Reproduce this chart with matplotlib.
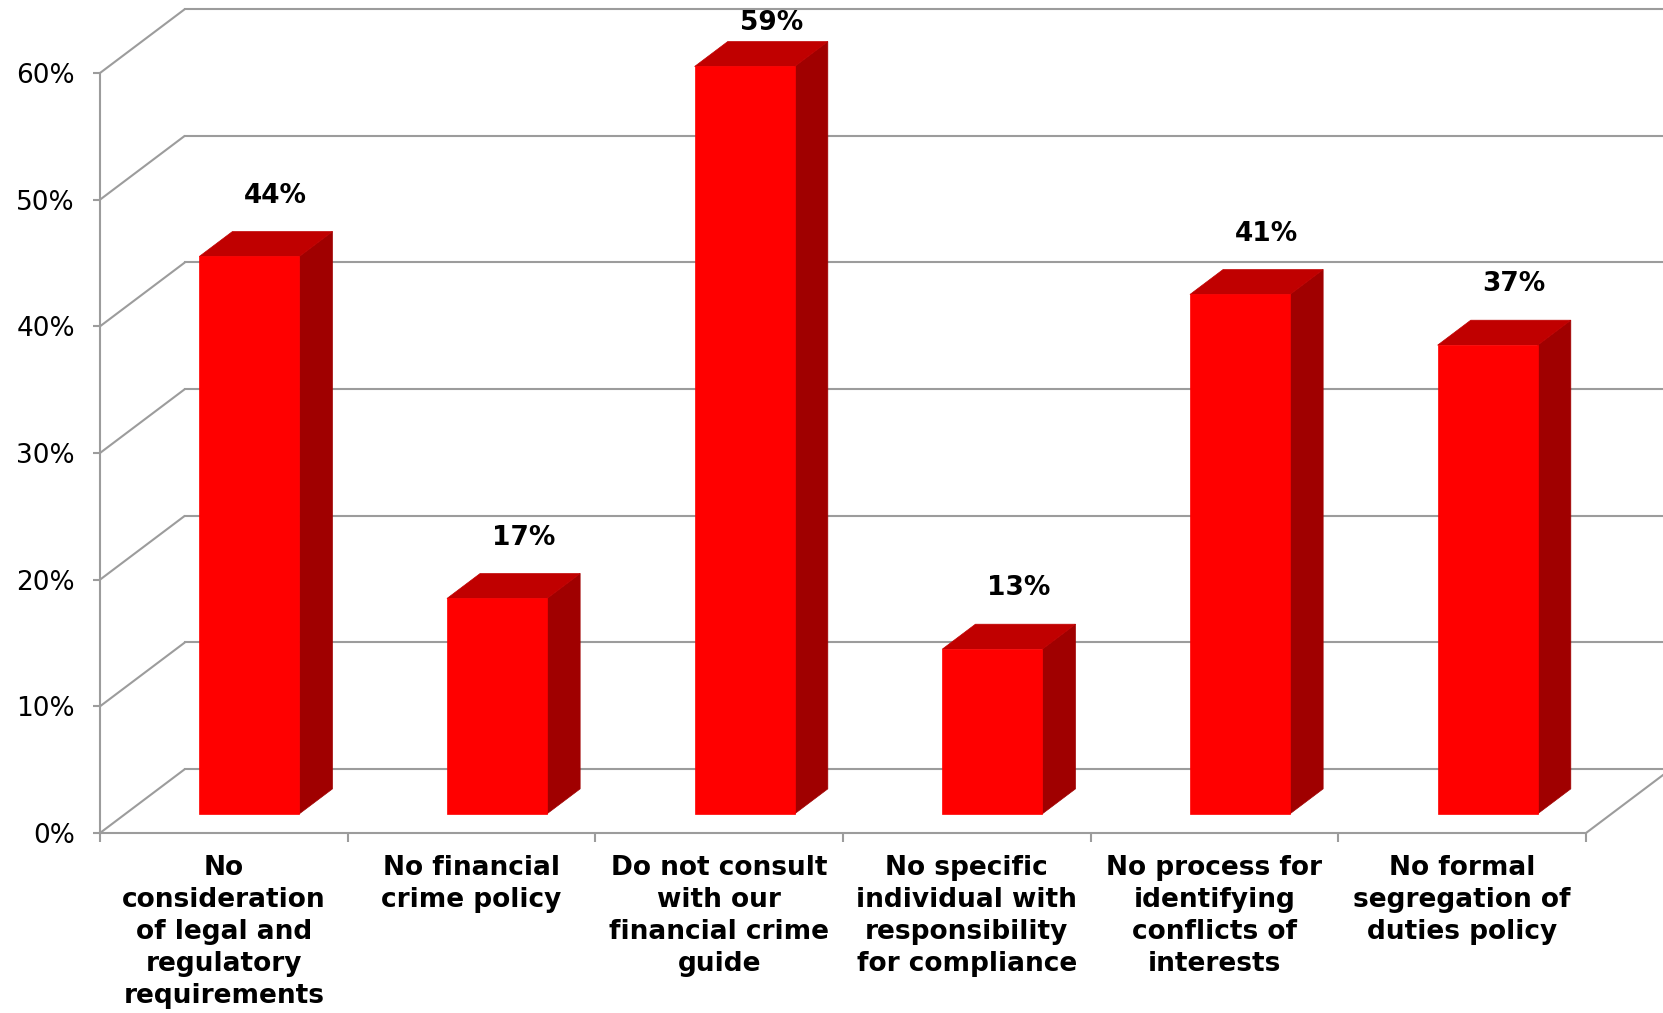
import matplotlib
matplotlib.use("Agg")
import matplotlib.pyplot as plt
from matplotlib.patches import Polygon
from matplotlib.ticker import FixedLocator, NullFormatter

# ---- data ----
categories = [
    "No\nconsideration\nof legal and\nregulatory\nrequirements",
    "No financial\ncrime policy",
    "Do not consult\nwith our\nfinancial crime\nguide",
    "No specific\nindividual with\nresponsibility\nfor compliance",
    "No process for\nidentifying\nconflicts of\ninterests",
    "No formal\nsegregation of\nduties policy",
]
values = [44, 17, 59, 13, 41, 37]
y_ticks = [0, 10, 20, 30, 40, 50, 60]

# ---- style / layout ----
W, H, DPI = 1663, 1013, 100
grid_col = "#9c9c9c"
front_col = "#ff0000"
top_col = "#c00000"
side_col = "#a00000"
fs = 19

wall_dx, wall_dy = 0.343, 5.05      # depth of the 3D box in data units
bar_front, bar_back = 0.30, 0.69    # bar position inside the depth (fraction)
bar_w = 0.404

fig = plt.figure(figsize=(W / DPI, H / DPI), dpi=DPI)
ax = fig.add_axes([100 / W, 180 / H, 1486 / W, 760 / H])
n = len(categories)
ax.set_xlim(0, n)
ax.set_ylim(0, 60)

for s in ("top", "right"):
    ax.spines[s].set_visible(False)
for s in ("left", "bottom"):
    ax.spines[s].set_color(grid_col)
    ax.spines[s].set_linewidth(1.5)

# y axis
ax.set_yticks(y_ticks)
ax.set_yticklabels([f"{v}%" for v in y_ticks])
ax.tick_params(axis="y", direction="out", length=5, width=1.5, color=grid_col,
               labelsize=fs, pad=13, labelcolor="black")

# x axis: boundary ticks (major), centred labels (minor)
ax.xaxis.set_major_locator(FixedLocator(list(range(n + 1))))
ax.xaxis.set_major_formatter(NullFormatter())
ax.tick_params(axis="x", which="major", direction="out", length=6.5, width=1.5,
               color=grid_col)
centers = [i + 0.5 for i in range(n)]
ax.set_xticks(centers, minor=True)
ax.set_xticklabels(categories, minor=True, fontsize=fs, fontweight="bold",
                   linespacing=1.3)
ax.tick_params(axis="x", which="minor", length=0, pad=16)

# walls / gridlines
for v in y_ticks:
    ax.plot([0, wall_dx], [v, v + wall_dy], color=grid_col, lw=1.5,
            clip_on=False, zorder=1, solid_capstyle="butt")
    ax.plot([wall_dx, n + wall_dx + 0.2], [v + wall_dy, v + wall_dy],
            color=grid_col, lw=1.5, clip_on=False, zorder=1)
ax.plot([n, n + wall_dx], [0, wall_dy], color=grid_col, lw=1.5,
        clip_on=False, zorder=1)

# bars
fdx, fdy = bar_front * wall_dx, bar_front * wall_dy
bdx = (bar_back - bar_front) * wall_dx
bdy = (bar_back - bar_front) * wall_dy
pt_per_px = 72 / DPI
for i, v in enumerate(values):
    cx = i + 0.5 + fdx
    x0, x1 = cx - bar_w / 2, cx + bar_w / 2
    y0, y1 = fdy, fdy + v
    side = Polygon([(x1, y0), (x1 + bdx, y0 + bdy), (x1 + bdx, y1 + bdy), (x1, y1)],
                   closed=True, facecolor=side_col, edgecolor=side_col, lw=0.5,
                   clip_on=False, zorder=3)
    top = Polygon([(x0, y1), (x1, y1), (x1 + bdx, y1 + bdy), (x0 + bdx, y1 + bdy)],
                  closed=True, facecolor=top_col, edgecolor=top_col, lw=0.5,
                  clip_on=False, zorder=3)
    front = Polygon([(x0, y0), (x1, y0), (x1, y1), (x0, y1)], closed=True,
                    facecolor=front_col, edgecolor=front_col, lw=0.5,
                    clip_on=False, zorder=4)
    for p in (side, top, front):
        ax.add_patch(p)
    anchor = (cx + 0.8 * bdx, y1 + bdy)
    # keep the label inside the figure (offset in pixels, clamped near the top)
    anchor_px_y = ax.transData.transform(anchor)[1]
    off_px = min(36, (H - 23) - anchor_px_y)
    ax.annotate(f"{v}%", xy=anchor, xytext=(0, off_px * pt_per_px),
                textcoords="offset points", ha="center", va="center",
                fontsize=fs, fontweight="bold", annotation_clip=False, zorder=5)

fig.savefig("out.png", dpi=DPI)
